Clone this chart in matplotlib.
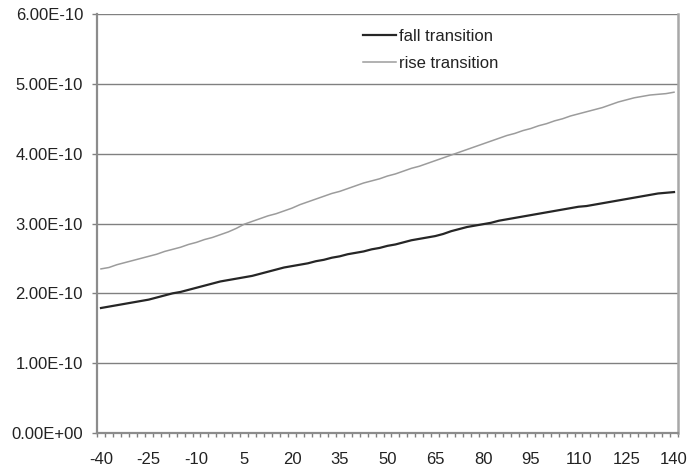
import matplotlib
matplotlib.use("Agg")
import matplotlib.pyplot as plt
import numpy as np

temps = [-40 + 2.5 * i for i in range(73)]
fall_transition = [1.79, 1.81, 1.83, 1.85, 1.87, 1.89, 1.91, 1.94, 1.97, 2.00,
                   2.02, 2.05, 2.08, 2.11, 2.14, 2.17, 2.19, 2.21, 2.23, 2.25,
                   2.28, 2.31, 2.34, 2.37, 2.39, 2.41, 2.43, 2.46, 2.48, 2.51,
                   2.53, 2.56, 2.58, 2.60, 2.63, 2.65, 2.68, 2.70, 2.73, 2.76,
                   2.78, 2.80, 2.82, 2.85, 2.89, 2.92, 2.95, 2.97, 2.99, 3.01,
                   3.04, 3.06, 3.08, 3.10, 3.12, 3.14, 3.16, 3.18, 3.20, 3.22,
                   3.24, 3.25, 3.27, 3.29, 3.31, 3.33, 3.35, 3.37, 3.39, 3.41,
                   3.43, 3.44, 3.45]
rise_transition = [2.35, 2.37, 2.41, 2.44, 2.47, 2.50, 2.53, 2.56, 2.60, 2.63,
                   2.66, 2.70, 2.73, 2.77, 2.80, 2.84, 2.88, 2.93, 2.99, 3.03,
                   3.07, 3.11, 3.14, 3.18, 3.22, 3.27, 3.31, 3.35, 3.39, 3.43,
                   3.46, 3.50, 3.54, 3.58, 3.61, 3.64, 3.68, 3.71, 3.75, 3.79,
                   3.82, 3.86, 3.90, 3.94, 3.98, 4.02, 4.06, 4.10, 4.14, 4.18,
                   4.22, 4.26, 4.29, 4.33, 4.36, 4.40, 4.43, 4.47, 4.50, 4.54,
                   4.57, 4.60, 4.63, 4.66, 4.70, 4.74, 4.77, 4.80, 4.82, 4.84,
                   4.85, 4.86, 4.88]
y_ticks = [0, 1e-10, 2e-10, 3e-10, 4e-10, 5e-10, 6e-10]
y_tick_labels = ["0.00E+00", "1.00E-10", "2.00E-10", "3.00E-10", "4.00E-10", "5.00E-10", "6.00E-10"]

plt.rcParams['font.family'] = ['Liberation Sans', 'DejaVu Sans']

fig = plt.figure(figsize=(6.87, 4.70), dpi=100)
ax = fig.add_axes([97/687, 1 - 433/470, (678 - 97)/687, (433 - 14)/470])

x = np.arange(len(temps))
fall = np.array(fall_transition) * 1e-10
rise = np.array(rise_transition) * 1e-10

for yv in y_ticks[1:]:
    ax.axhline(yv, color='#808080', lw=1.0, zorder=1)

ax.plot(x, fall, color='#262626', lw=1.6, label='fall transition', zorder=3)
ax.plot(x, rise, color='#9c9c9c', lw=1.1, label='rise transition', zorder=3)

ax.set_xlim(-0.5, len(temps) - 0.5)
ax.set_ylim(0, 6e-10)

ax.set_yticks(y_ticks)
ax.set_yticklabels(y_tick_labels)
lab_idx = list(range(0, len(temps), 6))
ax.set_xticks(lab_idx)
ax.set_xticklabels([f"{temps[i]:g}" for i in lab_idx])
ax.set_xticks(np.arange(len(temps) + 1) - 0.5, minor=True)
ax.tick_params(axis='x', which='major', length=0, pad=14, labelsize=12, colors='#222222')
ax.tick_params(axis='x', which='minor', length=3, width=1, color='#808080', direction='out')
ax.tick_params(axis='y', which='major', length=3.5, width=1, color='#808080', pad=6.5,
               labelsize=12, labelcolor='#222222')

for side in ['left', 'bottom']:
    ax.spines[side].set_color('#8c8c8c')
    ax.spines[side].set_linewidth(1.6)
ax.spines['right'].set_color('#a8a8a8')
ax.spines['right'].set_linewidth(1.8)
ax.spines['top'].set_visible(False)

leg = ax.legend(loc='upper left', bbox_to_anchor=(363/687, 1 - 29/470),
                bbox_transform=fig.transFigure, frameon=False, fontsize=12,
                handlelength=2.0, handletextpad=0.15, labelspacing=0.73,
                borderpad=0, borderaxespad=0)
for t in leg.get_texts():
    t.set_color('#222222')

fig.savefig('out.png', dpi=100)
